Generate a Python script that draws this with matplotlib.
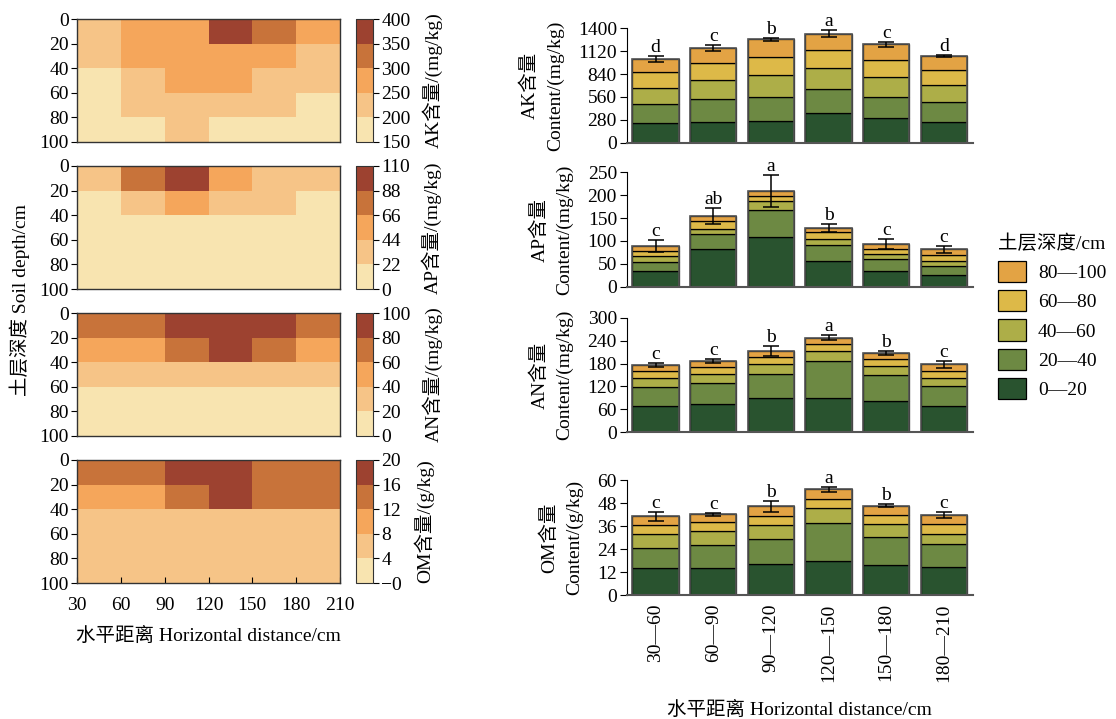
import matplotlib
matplotlib.use("Agg")
import matplotlib.pyplot as plt
from matplotlib.colors import ListedColormap, BoundaryNorm
from matplotlib.patches import Patch
import numpy as np

plt.rcParams['font.family'] = ['Liberation Serif', 'Noto Sans CJK SC']
plt.rcParams['axes.unicode_minus'] = True
FS = 14

# ---------------- data ----------------
segments = ["30—60", "60—90", "90—120", "120—150", "150—180", "180—210"]
x_edges = [30, 60, 90, 120, 150, 180, 210]
depth_edges = [0, 20, 40, 60, 80, 100]
layer_names = ["0—20", "20—40", "40—60", "60—80", "80—100"]

# rows: depth layers 0-20 ... 80-100 ; columns: horizontal segments
ak_layers = [[245, 253, 261, 359, 305, 257],
             [224, 278, 294, 294, 257, 237],
             [196, 240, 270, 257, 245, 208],
             [196, 205, 224, 225, 205, 184],
             [164, 179, 216, 198, 192, 179]]
ak_err = [35, 37, 22, 41, 27, 12]
ak_letters = ["d", "c", "b", "a", "c", "d"]

ap_layers = [[33.5, 81.6, 107.9, 55.4, 34.3, 25.5],
             [21.2, 32.8, 60.5, 35.7, 25.5, 19.7],
             [11.6, 12.4, 18.9, 13.9, 11.6, 10.2],
             [11.0, 16.8, 11.7, 13.8, 11.7, 13.1],
             [11.6, 10.9, 9.5, 10.2, 9.5, 13.1]]
ap_err = [14, 18, 35, 8.4, 11.3, 8.4]
ap_letters = ["c", "ab", "a", "b", "c", "c"]

an_layers = [[68, 73.3, 90.7, 89, 81.1, 68.9],
             [49.7, 54.9, 61, 98.5, 69.8, 52.3],
             [24.4, 25.3, 26.2, 25.3, 23.5, 21],
             [19.2, 16.6, 18.3, 19.5, 16.6, 18.3],
             [14.9, 17.4, 16.6, 15.7, 17.4, 17.4]]
an_err = [5.7, 4.8, 13, 6.5, 5.7, 8.3]
an_letters = ["c", "c", "b", "a", "b", "c"]

om_layers = [[13.95, 14.1, 16.4, 17.8, 15.7, 14.5],
             [10.8, 11.9, 12.9, 19.9, 14.8, 12.3],
             [7.0, 7.3, 7.2, 7.8, 6.5, 5.2],
             [4.7, 4.7, 4.7, 4.7, 4.7, 4.9],
             [4.7, 4.2, 5.2, 5.1, 5.0, 4.9]]
om_err = [2.4, 0.9, 2.8, 1.4, 0.8, 1.7]
om_letters = ["c", "c", "b", "a", "b", "c"]

ak_levels = [150, 200, 250, 300, 350, 400]
ap_levels = [0, 22, 44, 66, 88, 110]
an_levels = [0, 20, 40, 60, 80, 100]
om_levels = [0, 4, 8, 12, 16, 20]
om_level_labels = ["−0", "4", "8", "12", "16", "20"]

ak_ticks = [0, 280, 560, 840, 1120, 1400]
ap_ticks = [0, 50, 100, 150, 200, 250]
an_ticks = [0, 60, 120, 180, 240, 300]
om_ticks = [0, 12, 24, 36, 48, 60]

heat_colors = ["#F8E4B0", "#F6C487", "#F5A65B", "#C8733A", "#9D4230"]
bar_colors = ["#29532F", "#6D8943", "#ADAE48", "#DDB948", "#E3A344"]

# ---------------- layout ----------------
W, H = 1116, 719
fig = plt.figure(figsize=(W / 100, H / 100), dpi=100)


def rect(x0, y0, x1, y1):
    return [x0 / W, 1 - y1 / H, (x1 - x0) / W, (y1 - y0) / H]


cmap = ListedColormap(heat_colors)
heat_specs = [
    (ak_layers, ak_levels, [str(v) for v in ak_levels], "AK含量/(mg/kg)"),
    (ap_layers, ap_levels, [str(v) for v in ap_levels], "AP含量/(mg/kg)"),
    (an_layers, an_levels, [str(v) for v in an_levels], "AN含量/(mg/kg)"),
    (om_layers, om_levels, om_level_labels, "OM含量/(g/kg)"),
]
heat_tops = [19, 166, 313, 460]
hh = 123

for i, (layers, levels, lvl_labels, clabel) in enumerate(heat_specs):
    top = heat_tops[i]
    ax = fig.add_axes(rect(77, top, 340, top + hh))
    cax = fig.add_axes(rect(356, top, 373, top + hh))
    norm = BoundaryNorm(levels, cmap.N)
    mesh = ax.pcolormesh(x_edges, depth_edges, np.array(layers), cmap=cmap, norm=norm)
    ax.set_xlim(30, 210)
    ax.set_ylim(100, 0)
    ax.set_yticks(depth_edges)
    ax.tick_params(axis='y', direction='out', length=4, labelsize=FS, pad=2)
    if i == 3:
        ax.set_xticks(x_edges)
        ax.tick_params(axis='x', direction='in', length=4, labelsize=FS, pad=10)
        ax.set_xlabel("水平距离 Horizontal distance/cm", fontsize=FS, labelpad=9)
    else:
        ax.set_xticks([])
    for s in ax.spines.values():
        s.set_color("#333333")
        s.set_linewidth(1.0)
    cb = fig.colorbar(mesh, cax=cax, ticks=levels)
    cb.ax.set_yticklabels(lvl_labels)
    cb.ax.tick_params(direction='out', length=4, labelsize=FS, pad=2)
    cb.outline.set_edgecolor("#333333")
    cb.set_label(clabel, fontsize=FS, labelpad=8)

fig.text(0.018, 1 - 300.5 / H, "土层深度 Soil depth/cm", rotation=90,
         ha='center', va='center', fontsize=FS)

# ---------------- stacked bars ----------------
bar_specs = [
    (ak_layers, ak_err, ak_letters, ak_ticks, "AK含量\nContent/(mg/kg)", (28.3, 142.7)),
    (ap_layers, ap_err, ap_letters, ap_ticks, "AP含量\nContent/(mg/kg)", (172.3, 286.7)),
    (an_layers, an_err, an_letters, an_ticks, "AN含量\nContent/(mg/kg)", (317.7, 432.3)),
    (om_layers, om_err, om_letters, om_ticks, "OM含量\nContent/(g/kg)", (480.3, 595.0)),
]
xpos = np.arange(len(segments))
for i, (layers, err, letters, ticks, ylabel, (t, b)) in enumerate(bar_specs):
    ax = fig.add_axes(rect(626.7, t, 972.7, b))
    bottom = np.zeros(len(segments))
    for k, vals in enumerate(layers):
        vals = np.array(vals, dtype=float)
        ax.bar(xpos, vals, bottom=bottom, width=0.8, color=bar_colors[k],
               edgecolor="black", linewidth=0.9, zorder=2)
        bottom = bottom + vals
    ax.bar(xpos, bottom, width=0.8, fill=False, edgecolor="#555555",
           linewidth=1.2, zorder=3)
    ax.errorbar(xpos, bottom, yerr=err, fmt='none', ecolor='black',
                elinewidth=1.1, capsize=5.5, capthick=1.1, zorder=4)
    for xi, tot, e, let in zip(xpos, bottom, err, letters):
        ax.annotate(let, (xi, tot + e), xytext=(0, 0), textcoords='offset points',
                    ha='center', va='bottom', fontsize=FS)
    ax.set_xlim(-0.5, 5.5)
    ax.set_ylim(ticks[0], ticks[-1])
    ax.set_yticks(ticks)
    ax.tick_params(axis='y', direction='out', length=5, labelsize=FS, pad=2)
    ax.spines['top'].set_visible(False)
    ax.spines['right'].set_visible(False)
    ax.spines['left'].set_color('black')
    ax.spines['bottom'].set_color('#555555')
    ax.spines['bottom'].set_linewidth(1.5)
    ax.set_ylabel(ylabel, fontsize=FS, labelpad=10, linespacing=1.6)
    if i == 3:
        ax.set_xticks(xpos)
        ax.set_xticklabels(segments, rotation=90, fontsize=FS)
        ax.tick_params(axis='x', direction='in', length=7, pad=6, color='#333333')
        ax.set_xlabel("水平距离 Horizontal distance/cm", fontsize=FS, labelpad=14)
    else:
        ax.set_xticks([])

handles = [Patch(facecolor=bar_colors[k], edgecolor='black', linewidth=0.9,
                 label=layer_names[k]) for k in range(4, -1, -1)]
leg = fig.legend(handles=handles, loc='upper left',
                 bbox_to_anchor=(998 / W, 1 - 234 / H), frameon=False,
                 borderpad=0, borderaxespad=0,
                 fontsize=FS, title="土层深度/cm", title_fontsize=FS,
                 handlelength=1.45, handleheight=1.3, labelspacing=0.42,
                 handletextpad=0.6, alignment='left')

fig.savefig("out.png", dpi=100)
